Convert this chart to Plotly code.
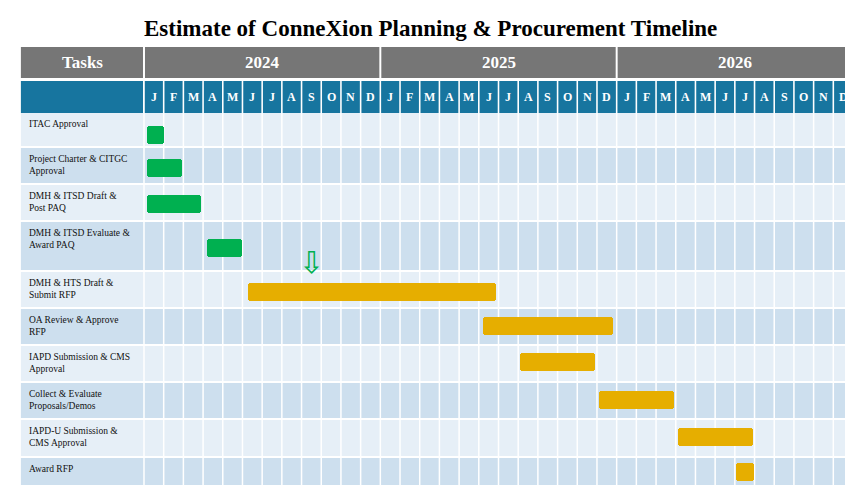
import plotly.graph_objects as go

tasks = ["ITAC Approval", "Project Charter & CITGC<br>Approval", "DMH & ITSD Draft &<br>Post PAQ",
         "DMH & ITSD Evaluate &<br>Award PAQ", "DMH & HTS Draft &<br>Submit RFP", "OA Review & Approve<br>RFP",
         "IAPD Submission & CMS<br>Approval", "Collect & Evaluate<br>Proposals/Demos",
         "IAPD-U Submission &<br>CMS Approval", "Award RFP"]
start_month = [0.15, 0.15, 0.15, 3.2, 5.28, 17.2, 19.1, 23.1, 27.1, 30.05]
end_month = [1.0, 1.93, 2.9, 5.0, 17.87, 23.8, 22.9, 26.9, 30.9, 30.96]
bar_colors = ["#00b050"] * 4 + ["#e6ae00"] * 6
years = ["2024", "2025", "2026"]
month_letters = ["J", "F", "M", "A", "M", "J", "J", "A", "S", "O", "N", "D"]
milestone_month = 8.5

# layout geometry (pixel units on y)
row_tops = [105, 140, 177, 214, 264, 301, 338, 375, 412, 450]
row_bots = [138, 175, 212, 262, 299, 336, 373, 410, 448, 483]
bar_centers = [127, 160, 196, 240, 284, 318, 354, 392, 429, 464]
TASK_L = -6.25
ROW_COLORS = ["#e6eff7", "#cddfee"]

shapes = []
annotations = []
# header rows
shapes.append(dict(type="rect", x0=TASK_L, x1=-0.05, y0=39, y1=70, fillcolor="#767676", line_width=0, layer="below"))
annotations.append(dict(x=(TASK_L) / 2, y=54, text="<b>Tasks</b>", showarrow=False,
                        font=dict(family="Liberation Serif", size=17, color="white")))
for i, yr in enumerate(years):
    shapes.append(dict(type="rect", x0=12 * i + 0.05, x1=12 * i + 11.95, y0=39, y1=70, fillcolor="#767676",
                       line_width=0, layer="below"))
    annotations.append(dict(x=12 * i + 6, y=54, text="<b>" + yr + "</b>", showarrow=False,
                            font=dict(family="Liberation Serif", size=17, color="white")))
shapes.append(dict(type="rect", x0=TASK_L, x1=-0.05, y0=73, y1=105, fillcolor="#17759f", line_width=0, layer="below"))
for m in range(36):
    shapes.append(dict(type="rect", x0=m + 0.04, x1=m + 0.96, y0=73, y1=105, fillcolor="#17759f",
                       line_width=0, layer="below"))
    annotations.append(dict(x=m + 0.5, y=89, text="<b>" + month_letters[m % 12] + "</b>", showarrow=False,
                            font=dict(family="Liberation Serif", size=12, color="white")))
# rows
for r in range(len(tasks)):
    col = ROW_COLORS[r % 2]
    shapes.append(dict(type="rect", x0=TASK_L, x1=36, y0=row_tops[r], y1=row_bots[r], fillcolor=col,
                       line_width=0, layer="below"))
    annotations.append(dict(x=TASK_L + 0.3, y=row_tops[r] + 4, text=tasks[r], showarrow=False, xanchor="left",
                            yanchor="top", align="left",
                            font=dict(family="Liberation Serif", size=9.5, color="#111")))
for m in range(37):
    shapes.append(dict(type="line", x0=m, x1=m, y0=105, y1=483, line=dict(color="white", width=1.5), layer="below"))

fig = go.Figure()
fig.add_trace(go.Bar(
    x=[e - s for s, e in zip(start_month, end_month)], base=start_month, y=bar_centers,
    orientation="h", width=18, marker=dict(color=bar_colors, cornerradius=3, line_width=0),
    hoverinfo="skip"))

annotations.append(dict(x=milestone_month, y=254, text="⇩", showarrow=False,
                        font=dict(family="DejaVu Sans", size=30, color="#00b050")))
annotations.append(dict(xref="paper", x=0.495, y=20, text="<b>Estimate of ConneXion Planning & Procurement Timeline</b>",
                        showarrow=False, font=dict(family="Liberation Serif", size=23, color="black")))

fig.update_layout(
    width=853, height=485, margin=dict(l=0, r=0, t=0, b=0),
    paper_bgcolor="white", plot_bgcolor="white", showlegend=False,
    xaxis=dict(range=[-6.905, 36.406], visible=False, fixedrange=True),
    yaxis=dict(range=[485, 0], visible=False, fixedrange=True),
    shapes=shapes, annotations=annotations, bargap=0)
fig.write_html("out.html")
